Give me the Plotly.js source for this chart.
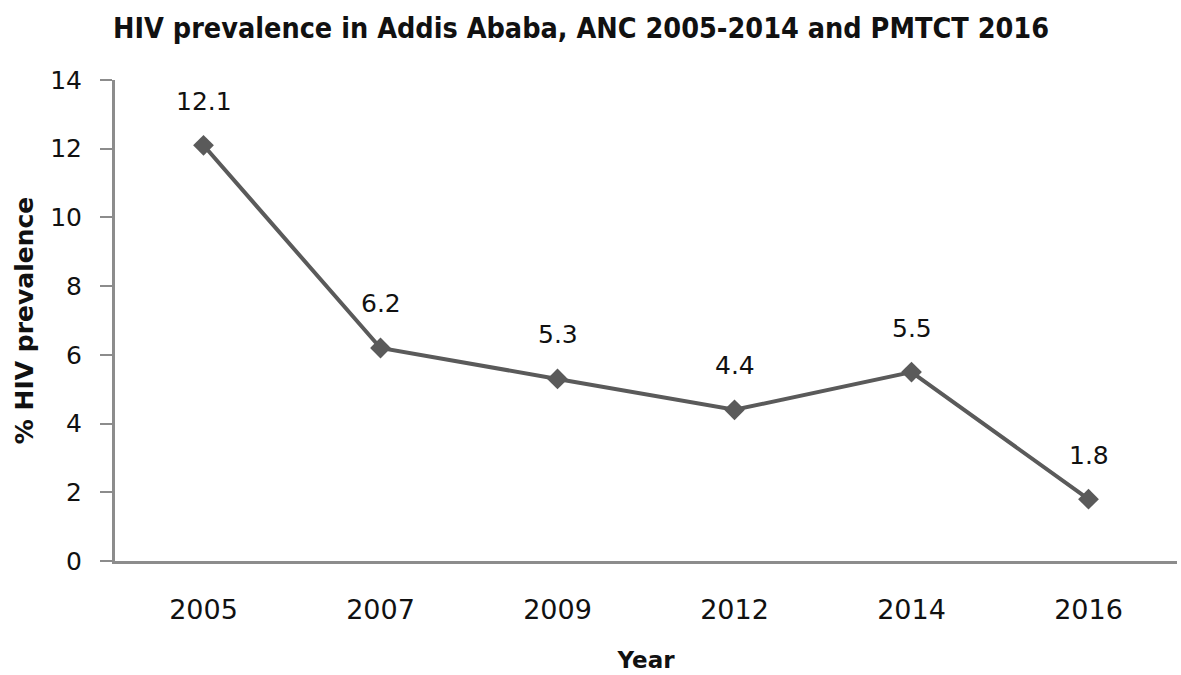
<!DOCTYPE html>
<html>
<head>
<meta charset="utf-8">
<script src="https://cdn.plot.ly/plotly-3.0.1.min.js"></script>
<style>html,body{margin:0;padding:0;background:#fff;}#chart{width:1181px;height:675px;}</style>
</head>
<body>
<div id="chart"></div>
<script>
var years = ['2005', '2007', '2009', '2012', '2014', '2016'];
var prevalence = [12.1, 6.2, 5.3, 4.4, 5.5, 1.8];
var yTicks = [0, 2, 4, 6, 8, 10, 12, 14];

var lineColor = '#5a5a5a';
var axisColor = '#8c8c8c';

var trace = {
  x: years,
  y: prevalence,
  type: 'scatter',
  mode: 'lines+markers',
  line: {color: lineColor, width: 4},
  marker: {symbol: 'diamond', size: 16, color: lineColor},
  hoverinfo: 'none'
};

// data labels: x given as the category index on the category axis
var annotations = years.map(function (yr, i) {
  return {
    x: i, y: prevalence[i], xref: 'x', yref: 'y',
    text: String(prevalence[i]),
    showarrow: false, yshift: 44,
    font: {family: 'DejaVu Sans, Verdana, sans-serif', size: 25, color: '#111'}
  };
});

var layout = {
  width: 1181, height: 675,
  margin: {l: 115, r: 4, t: 80, b: 114},
  paper_bgcolor: '#fff', plot_bgcolor: '#fff',
  showlegend: false,
  title: {
    text: 'HIV prevalence in Addis Ababa, ANC 2005-2014 and PMTCT 2016',
    font: {family: 'Liberation Sans Narrow, DejaVu Sans Condensed, sans-serif', size: 28.5, color: '#111', weight: 'bold'},
    x: 0.492, xanchor: 'center', y: 0.958, yanchor: 'middle'
  },
  xaxis: {
    type: 'category',
    categoryorder: 'array', categoryarray: years,
    range: [-0.5, years.length - 0.5], autorange: false,
    showline: true, linecolor: axisColor, linewidth: 3,
    ticks: 'outside', ticklen: 23, tickcolor: 'rgba(0,0,0,0)',
    showgrid: false, zeroline: false,
    tickfont: {family: 'DejaVu Sans, Verdana, sans-serif', size: 27, color: '#111'},
    title: {text: 'Year', font: {family: 'DejaVu Sans, Verdana, sans-serif', size: 23, color: '#111', weight: 'bold'}, standoff: 28}
  },
  yaxis: {
    range: [0, 14], autorange: false,
    tickvals: yTicks,
    showline: true, linecolor: axisColor, linewidth: 3,
    ticks: 'outside', ticklen: 12, tickwidth: 2, tickcolor: axisColor,
    showgrid: false, zeroline: false,
    tickfont: {family: 'DejaVu Sans, Verdana, sans-serif', size: 25, color: '#111'},
    ticklabelstandoff: 13,
    title: {text: '% HIV prevalence', font: {family: 'DejaVu Sans, Verdana, sans-serif', size: 25, color: '#111', weight: 'bold'}, standoff: 10}
  },
  annotations: annotations
};

Plotly.newPlot('chart', [trace], layout, {displayModeBar: false, staticPlot: true});
</script>
</body>
</html>
